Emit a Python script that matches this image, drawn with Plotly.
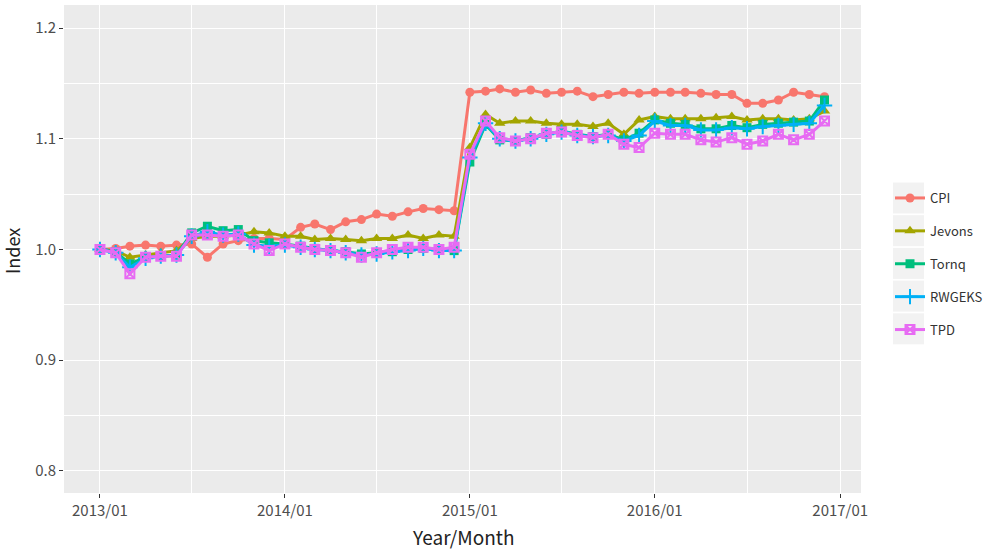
import pandas as pd
import plotly.graph_objects as go

# Monthly price indices, 2013/01 - 2016/12
months = pd.date_range("2013-01-01", periods=48, freq="MS")

cpi = [1.000, 1.001, 1.003, 1.004, 1.003, 1.004, 1.005, 0.993, 1.005, 1.008, 1.010, 1.010,
       1.009, 1.020, 1.023, 1.018, 1.025, 1.027, 1.032, 1.030, 1.034, 1.037, 1.036, 1.035,
       1.142, 1.143, 1.145, 1.142, 1.144, 1.141, 1.142, 1.143, 1.138, 1.140, 1.142, 1.141,
       1.142, 1.142, 1.142, 1.141, 1.140, 1.140, 1.132, 1.132, 1.135, 1.142, 1.140, 1.138]

jevons = [1.000, 0.999, 0.993, 0.995, 0.997, 0.999, 1.010, 1.012, 1.012, 1.013, 1.016, 1.015,
          1.012, 1.012, 1.009, 1.010, 1.009, 1.008, 1.010, 1.010, 1.013, 1.010, 1.013, 1.012,
          1.092, 1.122, 1.114, 1.116, 1.116, 1.114, 1.113, 1.113, 1.111, 1.114, 1.104, 1.117,
          1.120, 1.118, 1.118, 1.118, 1.119, 1.120, 1.117, 1.118, 1.118, 1.117, 1.118, 1.125]

tornq = [1.000, 0.998, 0.987, 0.993, 0.994, 0.995, 1.015, 1.021, 1.017, 1.018, 1.008, 1.006,
         1.005, 1.003, 1.001, 0.999, 0.998, 0.996, 0.997, 0.998, 1.000, 1.001, 1.000, 0.999,
         1.079, 1.113, 1.099, 1.098, 1.101, 1.104, 1.107, 1.104, 1.102, 1.104, 1.099, 1.105,
         1.117, 1.114, 1.113, 1.109, 1.109, 1.112, 1.110, 1.113, 1.114, 1.115, 1.116, 1.135]

rwgeks = [1.000, 0.997, 0.984, 0.992, 0.994, 0.995, 1.012, 1.016, 1.013, 1.014, 1.004, 1.003,
          1.004, 1.002, 1.000, 0.999, 0.997, 0.995, 0.996, 0.998, 0.999, 1.001, 0.999, 0.999,
          1.083, 1.114, 1.100, 1.098, 1.100, 1.104, 1.106, 1.103, 1.102, 1.103, 1.098, 1.103,
          1.116, 1.112, 1.112, 1.108, 1.108, 1.110, 1.109, 1.111, 1.112, 1.113, 1.114, 1.130]

tpd = [1.000, 0.997, 0.978, 0.993, 0.994, 0.994, 1.013, 1.013, 1.012, 1.013, 1.005, 0.999,
       1.005, 1.002, 1.000, 0.999, 0.997, 0.993, 0.997, 1.000, 1.002, 1.002, 1.000, 1.002,
       1.086, 1.116, 1.101, 1.098, 1.100, 1.105, 1.106, 1.103, 1.101, 1.104, 1.095, 1.092,
       1.105, 1.104, 1.104, 1.099, 1.097, 1.101, 1.095, 1.098, 1.104, 1.099, 1.104, 1.116]

series_names = ["CPI", "Jevons", "Tornq", "RWGEKS", "TPD"]
series_values = [cpi, jevons, tornq, rwgeks, tpd]
colors = ["#F8766D", "#A3A500", "#00BF7D", "#00B0F6", "#E76BF3"]
symbols = ["circle", "triangle-up", "square", "cross-thin-open", "square-x-open"]
sizes = [9, 10, 9, 11, 9]

FONT = "Noto Sans CJK KR"

fig = go.Figure()
for name, vals, col, sym, sz in zip(series_names, series_values, colors, symbols, sizes):
    open_sym = sym.endswith("open")
    fig.add_trace(go.Scatter(
        x=months, y=vals, name=name, mode="lines+markers",
        legendgroup=name,
        line=dict(color=col, width=3),
        marker=dict(symbol=sym, size=sz, color=col,
                    line=dict(color=col, width=2 if open_sym else 0)),
    ))

# panel geometry (pixels) used for paper-space placement
W, H = 985, 551
L, R, T, B = 64, 124, 5, 58
pw, ph = W - L - R, H - T - B

def px_x(x):
    return (x - L) / pw

def px_y(y):
    return (H - B - y) / ph

# grey key backgrounds in the legend
shapes = []
for i in range(5):
    top = 182 + i * 32.7
    shapes.append(dict(type="rect", xref="paper", yref="paper",
                       x0=px_x(893), x1=px_x(924), y0=px_y(top + 31.5), y1=px_y(top + 0.5),
                       fillcolor="#F2F2F2", line=dict(width=0), layer="below"))

fig.update_layout(
    width=W, height=H,
    margin=dict(l=L, r=R, t=T, b=B, autoexpand=False),
    paper_bgcolor="white",
    plot_bgcolor="#EBEBEB",
    font=dict(family=FONT, color="#4D4D4D", size=15),
    shapes=shapes,
    showlegend=True,
    legend=dict(
        x=px_x(890), xanchor="left", y=px_y(183), yanchor="top",
        bgcolor="rgba(0,0,0,0)",
        font=dict(family=FONT, size=13, color="#333333"),
        tracegroupgap=13, itemwidth=30,
        traceorder="grouped",
    ),
    annotations=[
        dict(text="Year/Month", xref="paper", yref="paper", x=0.5, y=px_y(536),
             xanchor="center", yanchor="middle", showarrow=False,
             font=dict(family=FONT, size=19, color="#222222")),
        dict(text="Index", xref="paper", yref="paper", x=px_x(12), y=px_y(251),
             xanchor="center", yanchor="middle", textangle=-90, showarrow=False,
             font=dict(family=FONT, size=18, color="#222222")),
    ],
)

fig.update_xaxes(
    type="date",
    range=["2012-10-22", "2017-02-11"],
    dtick="M12", tick0="2013-01-01", tickformat="%Y/%m",
    showgrid=True, gridcolor="white", gridwidth=1.2,
    minor=dict(dtick="M6", tick0="2013-01-01", showgrid=True, gridcolor="white", gridwidth=0.5),
    ticks="outside", ticklen=4, tickcolor="#333333", tickwidth=1,
    showline=False, zeroline=False,
    tickfont=dict(family=FONT, size=15, color="#4D4D4D"),
)
fig.update_yaxes(
    range=[0.7801, 1.2208],
    dtick=0.1, tick0=0.8, tickformat=".1f",
    showgrid=True, gridcolor="white", gridwidth=1.2,
    minor=dict(dtick=0.05, tick0=0.8, showgrid=True, gridcolor="white", gridwidth=0.5),
    ticks="outside", ticklen=4, tickcolor="#333333", tickwidth=1,
    showline=False, zeroline=False,
    tickfont=dict(family=FONT, size=15, color="#4D4D4D"),
)

fig.write_html("out.html")
